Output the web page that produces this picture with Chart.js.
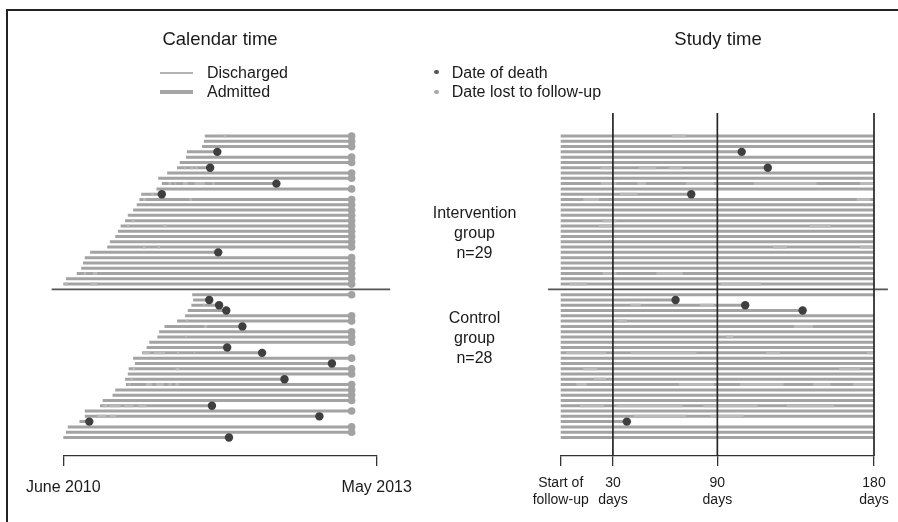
<!DOCTYPE html>
<html>
<head>
<meta charset="utf-8">
<script src="https://cdn.jsdelivr.net/npm/chart.js@4/dist/chart.umd.min.js"></script>
<style>
  html, body { margin:0; padding:0; background:#fff; }
  body { width:898px; height:522px; overflow:hidden; position:relative;
         font-family:"Liberation Sans", Arial, Helvetica, sans-serif; color:#1a1a1a; }
  canvas { position:absolute; top:0; }
  #cL { left:0; }
  #cR { left:449px; }
  .t { position:absolute; white-space:nowrap; line-height:1; }
  .c { transform:translate(-50%,-50%); }
  .l { transform:translate(0,-50%); }
  .frame { position:absolute; left:6px; top:9px; width:900px; height:520px;
           border-left:2px solid #222; border-top:2px solid #222; }
  .grp { position:absolute; width:160px; margin-left:-80px; text-align:center;
         font-size:16px; line-height:20px; }
</style>
</head>
<body>
<div class="frame"></div>
<canvas id="cL" width="449" height="522"></canvas>
<canvas id="cR" width="449" height="522"></canvas>

<div class="t c" style="left:220px;top:38.5px;font-size:18.5px;">Calendar time</div>
<div class="t c" style="left:718px;top:39px;font-size:18.5px;">Study time</div>

<div style="position:absolute;left:160px;top:71.7px;width:33px;height:2px;background:#b3b3b3;"></div>
<div style="position:absolute;left:160px;top:90px;width:33px;height:3.5px;background:#a6a6a6;"></div>
<div class="t l" style="left:207px;top:73px;font-size:16px;">Discharged</div>
<div class="t l" style="left:207px;top:92px;font-size:16px;">Admitted</div>
<div style="position:absolute;left:434.4px;top:69.7px;width:4.6px;height:4.6px;border-radius:50%;background:#555;"></div>
<div style="position:absolute;left:434.4px;top:89.7px;width:4.6px;height:4.6px;border-radius:50%;background:#aaa;"></div>
<div class="t l" style="left:451.7px;top:73px;font-size:16px;">Date of death</div>
<div class="t l" style="left:451.7px;top:92px;font-size:16px;">Date lost to follow-up</div>

<div class="grp" style="left:474.5px;top:203.3px;">Intervention<br>group<br>n=29</div>
<div class="grp" style="left:474.5px;top:308.3px;">Control<br>group<br>n=28</div>

<script>
// ---------------- DATA ----------------
// Calendar time in months since June 2010 (0 = June 2010, 35 = May 2013)
const calTickValues = [0, 35];
const calTickLabels = ['June 2010', 'May 2013'];
// Study time in days since start of follow-up
const studyTickValues = [0, 30, 90, 180];
const studyTickLabels = [['Start of', 'follow-up'], ['30', 'days'], ['90', 'days'], ['180', 'days']];
const studyRefDays = [30, 90, 180];

const END_MONTH = 32.2;      // end of observation (calendar months)
const FOLLOW_DAYS = 180;     // study follow-up window
const DAYS_PER_MONTH = 30.44;

// Intervention group (n=29): start of follow-up (calendar months)
const intStartMonth = [15.8, 15.7, 15.5, 13.8, 13.7, 13.0, 12.7, 11.6, 10.6, 11.0,
                       10.4, 8.7, 8.5, 8.2, 7.8, 7.2, 6.9, 6.4, 6.1, 5.8,
                       5.2, 4.9, 3.0, 2.4, 2.2, 2.0, 1.5, 0.3, 0.0];
// Date of death (calendar months), null = lost to follow-up at end
const intDeathMonth = [null, null, null, 17.2, null, null, 16.4, null, null, 23.8,
                       null, 11.0, null, null, null, null, null, null, null, null,
                       null, null, 17.3, null, null, null, null, null, null];
// Death within study window (days), null = alive at 180 days
const intDeathDay = [null, null, null, 104, null, null, 119, null, null, null,
                     null, 75, null, null, null, null, null, null, null, null,
                     null, null, null, null, null, null, null, null, null];
// Admissions [row, fromDay, toDay]
const intAdmissions = [[0, 64, 72], [6, 23, 30], [6, 45, 55], [6, 62, 70], [9, 23, 32], [9, 44, 49],
                       [9, 72, 88], [9, 111, 147], [9, 172, 180], [11, 34, 44], [12, 13, 22], [12, 170, 178],
                       [16, 24, 32], [17, 22, 30], [17, 143, 155], [21, 122, 130], [21, 172, 180],
                       [26, 24, 32], [26, 55, 70], [28, 5, 15], [28, 92, 115]];

// Control group (n=28)
const ctrlStartMonth = [14.4, 14.5, 14.3, 13.9, 13.6, 12.7, 11.3, 10.7, 10.5, 9.6,
                        9.3, 8.8, 7.8, 8.0, 7.3, 7.2, 6.9, 7.0, 5.8, 5.5,
                        4.4, 4.1, 2.4, 2.4, 1.8, 0.5, 0.3, 0.0];
const ctrlDeathMonth = [null, 16.3, 17.4, 18.2, null, null, 20.0, null, null, null,
                        18.3, 22.2, null, 30.0, null, null, 24.7, null, null, null,
                        null, 16.6, null, 28.6, 2.9, null, null, 18.5];
const ctrlDeathDay = [null, 66, 106, 139, null, null, null, null, null, null,
                      null, null, null, null, null, null, null, null, null, null,
                      null, null, null, null, 38, null, null, null];
const ctrlAdmissions = [[2, 40, 46], [2, 80, 88], [5, 32, 38], [6, 134, 145], [8, 95, 99],
                        [11, 3, 26], [11, 40, 78], [11, 118, 126], [11, 176, 180], [14, 13, 21],
                        [14, 160, 172], [16, 19, 26], [17, 9, 15], [17, 68, 88], [17, 103, 128],
                        [17, 145, 155], [17, 168, 180], [21, 11, 25], [21, 32, 70], [21, 82, 113],
                        [21, 130, 157], [23, 42, 72], [23, 86, 105]];

// ---------------- LAYOUT / STYLE ----------------
const FONT = '"Liberation Sans", Arial, Helvetica, sans-serif';
const LINE_COLOR = '#a3a3a3', ADM_COLOR = '#b9b9b9', DEATH_COLOR = '#3f3f3f',
      LOST_COLOR = '#a2a2a2', AXIS_COLOR = '#333', REF_COLOR = '#262626', SEP_COLOR = '#555';
const CTRL_SLOT0 = 30, SEP_SLOT = 29;
const Y_MIN = -5, Y_MAX = 60.5, REF_TOP = -4.35;
const sepCal = [-1.3, 36.5], sepStudy = [-7.3, 188];

const groups = [
  { slot0: 0, start: intStartMonth, deathM: intDeathMonth, deathD: intDeathDay, adm: intAdmissions },
  { slot0: CTRL_SLOT0, start: ctrlStartMonth, deathM: ctrlDeathMonth, deathD: ctrlDeathDay, adm: ctrlAdmissions }
];

const calLine = [], calAdm = [], calDeath = [], calLost = [];
const stLine = [], stAdm = [], stDeath = [];
groups.forEach(g => {
  g.start.forEach((s, i) => {
    const y = g.slot0 + i;
    const endM = g.deathM[i] != null ? g.deathM[i] : END_MONTH;
    calLine.push({ x: s, y }, { x: endM, y }, { x: endM, y: null });
    if (g.deathM[i] != null) calDeath.push({ x: endM, y }); else calLost.push({ x: endM, y });
    const endD = g.deathD[i] != null ? g.deathD[i] : FOLLOW_DAYS;
    stLine.push({ x: 0, y }, { x: endD, y }, { x: endD, y: null });
    if (g.deathD[i] != null) stDeath.push({ x: endD, y });
  });
  g.adm.forEach(([r, a, b]) => {
    const y = g.slot0 + r, s = g.start[r];
    const m1 = s + a / DAYS_PER_MONTH, m2 = s + b / DAYS_PER_MONTH;
    calAdm.push({ x: m1, y }, { x: m2, y }, { x: m2, y: null });
    stAdm.push({ x: a, y }, { x: b, y }, { x: b, y: null });
  });
});
const refLines = [];
studyRefDays.forEach(d => refLines.push({ x: d, y: REF_TOP }, { x: d, y: Y_MAX }, { x: d, y: null }));

function lineDs(data, color, width, order) {
  return { data, showLine: true, borderColor: color, borderWidth: width, pointRadius: 0,
           pointHoverRadius: 0, clip: false, spanGaps: false, order, tension: 0 };
}
function dotDs(data, color, r, order) {
  return { data, showLine: false, pointRadius: r, pointHoverRadius: r, pointBackgroundColor: color,
           pointBorderColor: color, pointBorderWidth: 0, clip: false, order };
}
function makeOptions(min, max, tickVals, tickLbls, padL, padR, fs, lp) {
  return {
    responsive: false, animation: false, devicePixelRatio: 1, events: [],
    layout: { padding: { left: padL, right: padR, top: 109.55, bottom: 0 } },
    plugins: { legend: { display: false }, tooltip: { enabled: false } },
    scales: {
      x: {
        type: 'linear', min, max, position: 'bottom',
        afterBuildTicks: s => { s.ticks = tickVals.map(v => ({ value: v })); },
        afterFit: s => { s.height = 66; },
        ticks: { autoSkip: false, maxRotation: 0, minRotation: 0, padding: lp, color: '#1a1a1a',
                 font: { family: FONT, size: fs, lineHeight: 1.2 },
                 callback: (v, i) => tickLbls[i] },
        grid: { drawOnChartArea: false, drawTicks: true, tickLength: 10, color: AXIS_COLOR, lineWidth: 1.3 },
        border: { display: true, color: AXIS_COLOR, width: 1.3 }
      },
      y: { type: 'linear', reverse: true, min: Y_MIN, max: Y_MAX, display: false }
    }
  };
}

new Chart(document.getElementById('cL'), {
  type: 'scatter',
  data: { datasets: [
    dotDs(calDeath, DEATH_COLOR, 4.2, 0),
    dotDs(calLost, LOST_COLOR, 3.8, 1),
    lineDs([{ x: sepCal[0], y: SEP_SLOT }, { x: sepCal[1], y: SEP_SLOT }], SEP_COLOR, 1.8, 2),
    lineDs(calAdm, ADM_COLOR, 3, 3),
    lineDs(calLine, LINE_COLOR, 3, 4)
  ] },
  options: makeOptions(0, 35, calTickValues, calTickLabels, 63.3, 72.3, 16, 12.4)
});

new Chart(document.getElementById('cR'), {
  type: 'scatter',
  data: { datasets: [
    dotDs(stDeath, DEATH_COLOR, 4.2, 0),
    lineDs(refLines, REF_COLOR, 1.7, 1),
    lineDs([{ x: sepStudy[0], y: SEP_SLOT }, { x: sepStudy[1], y: SEP_SLOT }], SEP_COLOR, 1.8, 2),
    lineDs(stAdm, ADM_COLOR, 3, 3),
    lineDs(stLine, LINE_COLOR, 3, 4)
  ] },
  options: makeOptions(0, 180, studyTickValues, studyTickLabels, 111.7, 24, 14, 8.6)
});
</script>
</body>
</html>
